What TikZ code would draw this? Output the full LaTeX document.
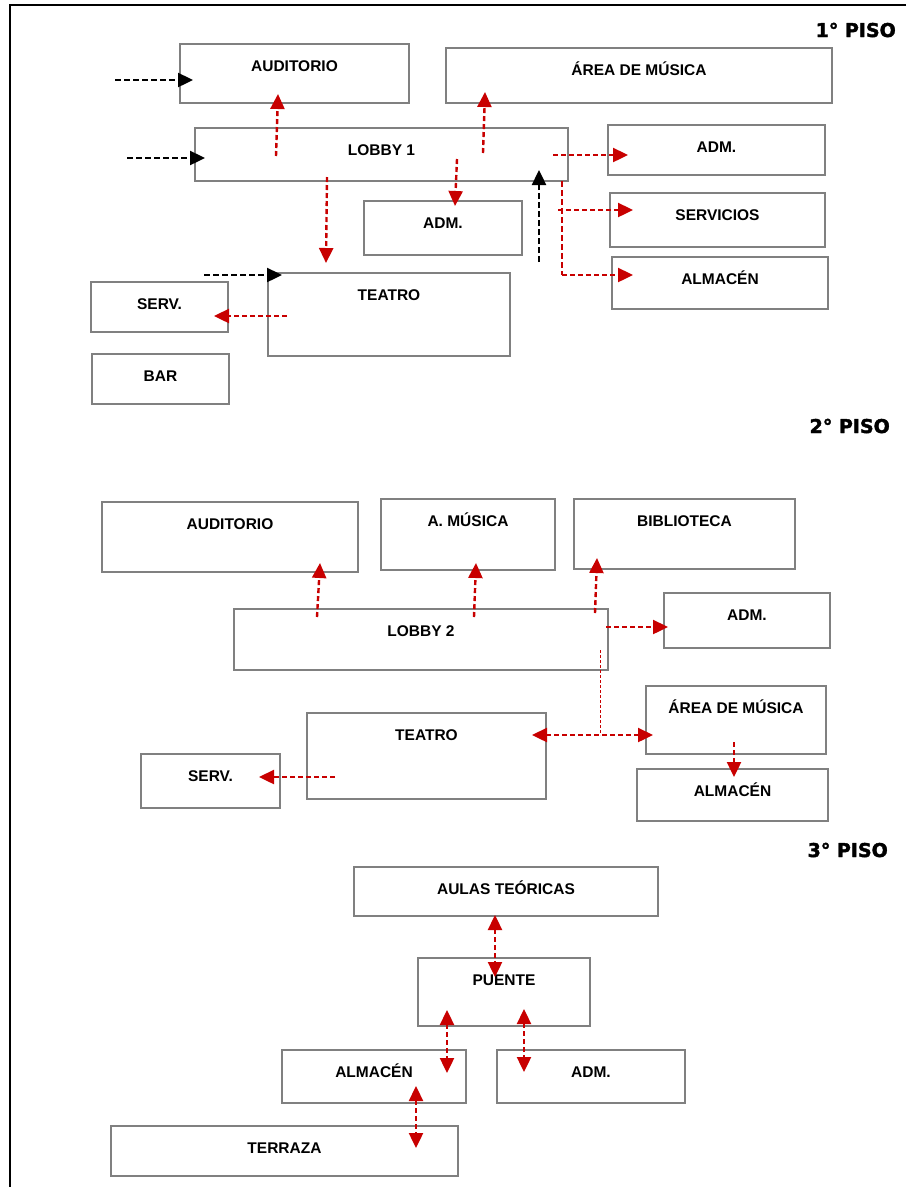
\documentclass[tikz,border=0pt]{standalone}
\usepackage{fontspec}
\setmainfont{Liberation Sans}
\newfontfamily\hdfont[BoldFeatures={FakeBold=2}]{DejaVu Sans}
\usetikzlibrary{arrows.meta,calc}
\definecolor{arrred}{RGB}{200,0,0}
\definecolor{boxgray}{RGB}{128,128,128}
\newcommand{\roomnode}[6]{%
  \node[box,minimum width=#4pt,minimum height=#5pt] (#1) at (#2,#3) {};
  \node[lbl] (#1t) at ($(#1.north)+(0,21.5)$) {#6};}
\begin{document}
\begin{tikzpicture}[x=1pt,y=-1pt,
  box/.style={draw=boxgray,line width=1.6pt,anchor=north west,inner sep=0pt,outer sep=0pt,rectangle},
  lbl/.style={font=\fontsize{15.5}{18}\selectfont\bfseries,inner sep=0pt,text height=11pt,text depth=0pt},
  hdr/.style={font=\hdfont\fontsize{19}{22}\selectfont\bfseries,anchor=east,inner sep=0pt,text height=14pt,text depth=0pt},
  tipA/.tip={Triangle[length=15pt,width=14pt]},
  redarr/.style={draw=arrred,line width=2.4pt,dash pattern=on 5pt off 3pt,-tipA},
  redboth/.style={draw=arrred,line width=2.4pt,dash pattern=on 5pt off 3pt,tipA-tipA},
  blkarr/.style={draw=black,line width=2.4pt,dash pattern=on 6pt off 3pt,-tipA},
  redthin/.style={draw=arrred,line width=1.4pt,dash pattern=on 6pt off 3pt},
  reddot/.style={draw=arrred,line width=0.9pt,dash pattern=on 3pt off 2pt},
  frame/.style={draw=black,line width=2pt}]
\useasboundingbox (0,0) rectangle (906,1187);
\fill[white] (0,0) rectangle (906,1187);
\draw[frame] (906,5) -- (10,5) -- (10,1187);

% headers
\node[hdr] (h1) at (896,30) {1° PISO};
\node[hdr] (h2) at (890,426) {2° PISO};
\node[hdr] (h3) at (888,850) {3° PISO};

% ---------- floor 1 ----------
\roomnode{aud1}{180}{44}{229}{59}{AUDITORIO}
\roomnode{are1}{446}{48}{386}{55}{ÁREA DE MÚSICA}
\roomnode{lob1}{195}{128}{373}{53}{LOBBY 1}
\roomnode{adm1}{608}{125}{217}{50}{ADM.}
\roomnode{admm}{364}{201}{158}{54}{ADM.}
\roomnode{ser1}{610}{193}{215}{54}{SERVICIOS}
\roomnode{alm1}{612}{257}{216}{52}{ALMACÉN}
\roomnode{tea1}{268}{273}{242}{83}{TEATRO}
\roomnode{srv1}{91}{282}{137}{50}{SERV.}
\roomnode{bar1}{92}{354}{137}{50}{BAR}

\coordinate (k1a) at (115,80);  \coordinate (k1b) at (193,80);
\coordinate (k2a) at (127,158); \coordinate (k2b) at (205,158);
\coordinate (k3a) at (204,275); \coordinate (k3b) at (282,275);
\coordinate (k4a) at (539,262); \coordinate (k4b) at (539,170);
\coordinate (r1a) at (276,156); \coordinate (r1b) at (278,94);
\coordinate (r2a) at (483,153); \coordinate (r2b) at (485,92);
\coordinate (r3a) at (457,159); \coordinate (r3b) at (455,206);
\coordinate (r4a) at (327,177); \coordinate (r4b) at (326,263);
\coordinate (r5a) at (553,155); \coordinate (r5b) at (628,155);
\coordinate (v1a) at (562,181); \coordinate (v1b) at (562,275);
\coordinate (r6a) at (558,210); \coordinate (r6b) at (633,210);
\coordinate (r7b) at (633,275);
\coordinate (r8a) at (287,316); \coordinate (r8b) at (214,316);

\draw[blkarr] (k1a) -- (k1b);
\draw[blkarr] (k2a) -- (k2b);
\draw[blkarr] (k3a) -- (k3b);
\draw[blkarr] (k4a) -- (k4b);
\draw[redarr] (r1a) -- (r1b);
\draw[redarr] (r2a) -- (r2b);
\draw[redarr] (r3a) -- (r3b);
\draw[redarr] (r4a) -- (r4b);
\draw[redarr] (r5a) -- (r5b);
\draw[redthin] (v1a) -- (v1b);
\draw[redarr] (r6a) -- (r6b);
\draw[redarr] (v1b) -- (r7b);
\draw[redarr] (r8a) -- (r8b);

% ---------- floor 2 ----------
\roomnode{aud2}{102}{502}{256}{70}{AUDITORIO}
\roomnode{amu2}{381}{499}{174}{71}{A. MÚSICA}
\roomnode{bib2}{574}{499}{221}{70}{BIBLIOTECA}
\roomnode{adm2}{664}{593}{166}{55}{ADM.}
\roomnode{lob2}{234}{609}{374}{61}{LOBBY 2}
\roomnode{are2}{646}{686}{180}{68}{ÁREA DE MÚSICA}
\roomnode{tea2}{307}{713}{239}{86}{TEATRO}
\roomnode{srv2}{141}{754}{139}{54}{SERV.}
\roomnode{alm2}{637}{769}{191}{52}{ALMACÉN}

\coordinate (s1a) at (317,617); \coordinate (s1b) at (320,563);
\coordinate (s2a) at (474,617); \coordinate (s2b) at (476,563);
\coordinate (s3a) at (595,613); \coordinate (s3b) at (597,558);
\coordinate (s4a) at (606,627); \coordinate (s4b) at (668,627);
\coordinate (d1a) at (600,650); \coordinate (d1b) at (600,735);
\coordinate (s5a) at (532,735); \coordinate (s5b) at (653,735);
\coordinate (s6a) at (734,742); \coordinate (s6b) at (734,777);
\coordinate (s7a) at (335,777); \coordinate (s7b) at (259,777);

\draw[redarr] (s1a) -- (s1b);
\draw[redarr] (s2a) -- (s2b);
\draw[redarr] (s3a) -- (s3b);
\draw[redarr] (s4a) -- (s4b);
\draw[reddot] (d1a) -- (d1b);
\draw[redboth] (s5a) -- (s5b);
\draw[redarr] (s6a) -- (s6b);
\draw[redarr] (s7a) -- (s7b);

% ---------- floor 3 ----------
\roomnode{aul3}{354}{867}{304}{49}{AULAS TEÓRICAS}
\roomnode{pue3}{418}{958}{172}{68}{PUENTE}
\roomnode{alm3}{282}{1050}{184}{53}{ALMACÉN}
\roomnode{adm3}{497}{1050}{188}{53}{ADM.}
\roomnode{ter3}{111}{1126}{347}{50}{TERRAZA}

\coordinate (t1a) at (495,915);  \coordinate (t1b) at (495,977);
\coordinate (t2a) at (447,1010); \coordinate (t2b) at (447,1073);
\coordinate (t3a) at (524,1009); \coordinate (t3b) at (524,1072);
\coordinate (t4a) at (416,1086); \coordinate (t4b) at (416,1148);

\draw[redboth] (t1a) -- (t1b);
\draw[redboth] (t2a) -- (t2b);
\draw[redboth] (t3a) -- (t3b);
\draw[redboth] (t4a) -- (t4b);
\end{tikzpicture}
\end{document}
